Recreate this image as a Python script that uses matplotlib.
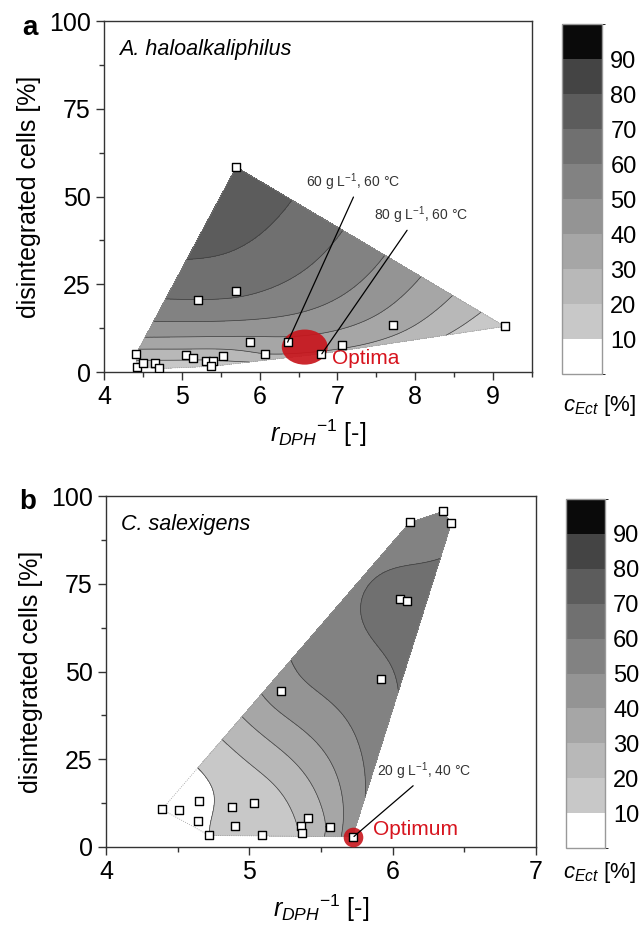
import numpy as np
import matplotlib
matplotlib.use("Agg")
import matplotlib.pyplot as plt
import matplotlib.tri as mtri
from matplotlib.colors import ListedColormap, BoundaryNorm
from matplotlib.patches import Ellipse

plt.rcParams['font.family'] = ['Liberation Sans', 'DejaVu Sans']
plt.rcParams['mathtext.fontset'] = 'custom'
plt.rcParams['mathtext.rm'] = 'Liberation Sans'
plt.rcParams['mathtext.it'] = 'Liberation Sans:italic'
plt.rcParams['mathtext.bf'] = 'Liberation Sans:bold'

# --- data ---
# panel a: A. haloalkaliphilus
a_x = [5.70, 5.70, 5.21, 5.88, 6.36, 6.07, 6.79, 7.06, 7.72, 9.15,
       4.41, 4.42, 4.50, 4.66, 4.71, 5.06, 5.15, 5.31, 5.40, 5.38, 5.53]
a_y = [58.4, 23.1, 20.6, 8.5, 8.5, 5.2, 5.2, 7.6, 13.3, 13.0,
       5.0, 1.4, 2.6, 2.6, 1.0, 4.9, 4.0, 3.1, 3.0, 1.6, 4.7]
a_c = [78, 62, 60, 36, 37, 30, 28, 32, 34, 11,
       25, 15, 18, 18, 14, 25, 22, 19, 19, 15, 24]

# panel b: C. salexigens
b_x = [6.35, 6.12, 6.41, 6.05, 6.10, 5.92, 5.22, 4.39, 4.51, 4.65, 4.64,
       4.72, 4.88, 4.90, 5.03, 5.09, 5.36, 5.41, 5.37, 5.56, 5.72]
b_y = [95.6, 92.5, 92.3, 70.8, 70.1, 48.0, 44.4, 10.7, 10.4, 13.2, 7.5,
       3.3, 11.4, 5.9, 12.5, 3.3, 5.9, 8.3, 4.0, 5.7, 2.9]
b_c = [56, 55, 57, 63, 63, 58, 45, 3, 5, 7, 8,
       10, 13, 13, 14, 14, 21, 24, 21, 32, 47]

levels = np.arange(0, 101, 10)
cbar_ticks = [10, 20, 30, 40, 50, 60, 70, 80, 90]
grays = [255, 200, 184, 166, 148, 130, 112, 92, 68, 10]
cmap = ListedColormap([(g / 255, g / 255, g / 255) for g in grays])
norm = BoundaryNorm(levels, cmap.N)


def tps(u, v, c, uq, vq):
    # thin plate spline through the measured points
    u, v, c = map(np.asarray, (u, v, c))
    def kern(r):
        with np.errstate(divide='ignore', invalid='ignore'):
            k = r ** 2 * np.log(r)
        return np.nan_to_num(k)
    n = len(u)
    r = np.hypot(u[:, None] - u[None, :], v[:, None] - v[None, :])
    P = np.column_stack([np.ones(n), u, v])
    A = np.zeros((n + 3, n + 3))
    A[:n, :n] = kern(r)
    A[:n, n:] = P
    A[n:, :n] = P.T
    sol = np.linalg.solve(A, np.concatenate([c, np.zeros(3)]))
    w, a = sol[:n], sol[n:]
    rq = np.hypot(uq[:, None] - u[None, :], vq[:, None] - v[None, :])
    return kern(rq) @ w + a[0] + a[1] * uq + a[2] * vq


fig = plt.figure(figsize=(6.43, 9.27), dpi=100)
ax_a = fig.add_axes([0.1617, 0.5987, 0.6656, 0.3786])
ax_b = fig.add_axes([0.1649, 0.0863, 0.6687, 0.3786])
cax_a = fig.add_axes([0.874, 0.5965, 0.0622, 0.3776])
cax_b = fig.add_axes([0.880, 0.0852, 0.0607, 0.3765])


def panel(ax, cax, x, y, c, xlim, species, vmap):
    x = np.asarray(x, float)
    y = np.asarray(y, float)
    tri = mtri.Triangulation(x, y)
    fine = mtri.UniformTriRefiner(tri).refine_triangulation(subdiv=5)
    cf = tps(x, vmap(y), c, fine.x, vmap(fine.y))
    cf = np.clip(cf, 0.5, 99)
    cs = ax.tricontourf(fine, cf, levels=levels, cmap=cmap, norm=norm, zorder=1)
    ax.tricontour(fine, cf, levels=levels[1:-1], colors='#3c3c3c',
                  linewidths=0.5, zorder=2)
    # dotted hull boundary
    nb = tri.neighbors
    for t in range(len(tri.triangles)):
        for k in range(3):
            if nb[t, k] == -1:
                i, j = tri.triangles[t, k], tri.triangles[t, (k + 1) % 3]
                ax.plot([x[i], x[j]], [y[i], y[j]], ls=':', color='0.6',
                        lw=0.6, zorder=2)
    ax.scatter(x, y, marker='s', s=40, facecolor='white', edgecolor='black',
               linewidths=1.0, zorder=5)
    ax.set_xlim(*xlim)
    ax.set_ylim(0, 100)
    ax.set_xticks(np.arange(xlim[0], xlim[1] + 0.01, 1))
    ax.set_xticks(np.arange(xlim[0], xlim[1] + 0.01, 0.5), minor=True)
    ax.set_yticks([0, 25, 50, 75, 100])
    ax.set_yticks(np.arange(0, 101, 12.5), minor=True)
    ax.tick_params(which='both', direction='out', labelsize=18, color='#333333',
                   top=False, right=False)
    ax.tick_params(which='major', length=6, width=1)
    ax.tick_params(which='minor', length=3.5, width=1)
    for s in ax.spines.values():
        s.set_color('#333333')
        s.set_linewidth(1)
    ax.set_xlabel(r'$r_{DPH}{}^{\mathit{-1}}$ [-]', fontsize=18, labelpad=6)
    ax.set_ylabel('disintegrated cells [%]', fontsize=18, labelpad=6)
    ax.text(xlim[0] + 0.035 * (xlim[1] - xlim[0]), 92, species,
            style='italic', fontsize=15.5, va='center', ha='left')
    cb = fig.colorbar(cs, cax=cax, ticks=cbar_ticks)
    cb.outline.set_edgecolor('0.6')
    cb.outline.set_linewidth(1)
    cb.ax.tick_params(length=0, labelsize=17, pad=6)
    return cs


panel(ax_a, cax_a, a_x, a_y, a_c, (4, 9.5), 'A. haloalkaliphilus',
      lambda y: 1.2 * np.log(y))
panel(ax_b, cax_b, b_x, b_y, b_c, (4, 7), 'C. salexigens',
      lambda y: y / 40.0)

# optima, panel a
ax_a.add_patch(Ellipse((6.58, 7.1), 0.59, 10, facecolor='#c8161d',
                       edgecolor='none', alpha=0.92, zorder=4))
ax_a.text(6.93, 3.8, 'Optima', color='#d7141e', fontsize=15, va='center')
ax_a.annotate('60 g L$^{\\mathregular{-1}}$, 60 °C', xy=(6.36, 8.5),
              xytext=(6.6, 51), fontsize=10, color='#333333', va='bottom',
              arrowprops=dict(arrowstyle='-', color='black', lw=0.9,
                              relpos=(0.52, 0), shrinkA=1, shrinkB=0),
              zorder=6)
ax_a.annotate('80 g L$^{\\mathregular{-1}}$, 60 °C', xy=(6.80, 5.2),
              xytext=(7.47, 41.5), fontsize=10, color='#333333', va='bottom',
              arrowprops=dict(arrowstyle='-', color='black', lw=0.9,
                              relpos=(0.38, 0), shrinkA=1, shrinkB=0),
              zorder=6)

# optimum, panel b
ax_b.scatter([5.72], [2.9], s=200, color='#c8161d', alpha=0.9, zorder=4,
             linewidths=0)
ax_b.text(5.86, 4.9, 'Optimum', color='#d7141e', fontsize=15, va='center')
ax_b.annotate('20 g L$^{\\mathregular{-1}}$, 40 °C', xy=(5.73, 3.0),
              xytext=(5.89, 18.5), fontsize=10, color='#333333', va='bottom',
              arrowprops=dict(arrowstyle='-', color='black', lw=0.9,
                              relpos=(0.43, 0), shrinkA=1, shrinkB=0),
              zorder=6)

fig.text(0.046, 0.970, 'a', fontsize=20, weight='bold', ha='center', va='center')
fig.text(0.043, 0.458, 'b', fontsize=20, weight='bold', ha='center', va='center')
fig.text(0.933, 0.563, r'$c_{Ect}$ [%]', fontsize=16, ha='center', va='center')
fig.text(0.933, 0.059, r'$c_{Ect}$ [%]', fontsize=16, ha='center', va='center')

fig.savefig('out.png', dpi=100)
